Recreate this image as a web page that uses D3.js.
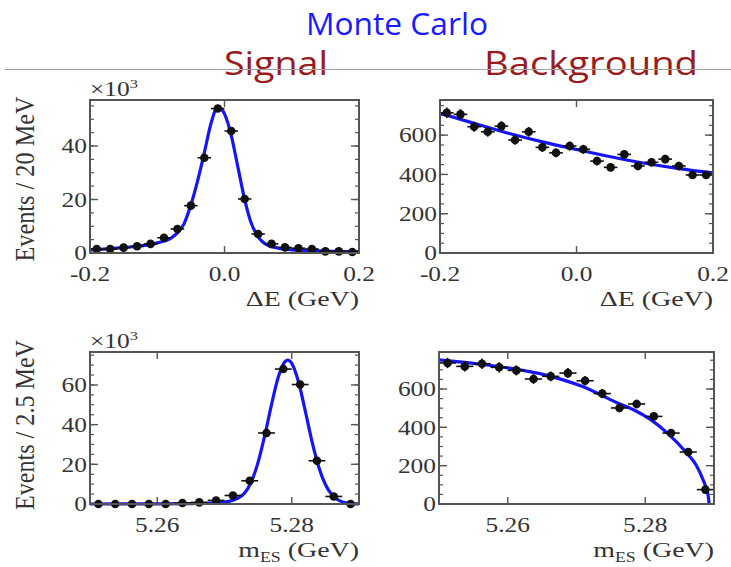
<!DOCTYPE html>
<html>
<head>
<meta charset="utf-8">
<script src="https://cdn.jsdelivr.net/npm/d3@7"></script>
<style>
  body { margin: 0; background: #fff; }
</style>
</head>
<body>
<svg id="chart" width="731" height="567"></svg>
<script>
// titles
const mainTitle = 'Monte Carlo'
const columnTitles = ['Signal', 'Background']

// ΔE histograms (20 MeV bins)
const deBins = [-0.19, -0.17, -0.15, -0.13, -0.11, -0.09, -0.07, -0.05, -0.03, -0.01,
                0.01, 0.03, 0.05, 0.07, 0.09, 0.11, 0.13, 0.15, 0.17, 0.19]
const sigDeCounts = [1.5, 1.5, 2.0, 2.5, 3.4, 5.7, 9.0, 17.7, 35.6, 54.0,
                     45.6, 20.2, 7.1, 3.4, 2.1, 1.8, 1.5, 0.6, 0.6, 0.4]   // x10^3
const bkgDeCounts = [714, 706, 643, 617, 646, 575, 617, 538, 510, 545,
                     528, 468, 436, 502, 443, 462, 478, 443, 397, 397]

// ΔE fit curves
const sigDeFitX = [-0.2, -0.15, -0.1, -0.08, -0.07, -0.06, -0.05, -0.04, -0.03, -0.02, -0.01,
                   0.0, 0.01, 0.02, 0.03, 0.04, 0.05, 0.06, 0.08, 0.1, 0.15, 0.2]
const sigDeFitY = [1.2, 2.0, 3.8, 5.5, 7.5, 11, 18, 27, 37.5, 48.5, 54.6,
                   52, 44, 32, 20, 11, 6, 3.5, 1.8, 1.2, 0.7, 0.5]
const bkgDeFitX = [-0.2, -0.15, -0.1, -0.05, 0.0, 0.05, 0.1, 0.15, 0.2]
const bkgDeFitY = [712, 660, 610, 566, 527, 490, 457, 430, 408]

// mES histograms (2.5 MeV bins)
const mesBins = [5.25125, 5.25375, 5.25625, 5.25875, 5.26125, 5.26375, 5.26625, 5.26875,
                 5.27125, 5.27375, 5.27625, 5.27875, 5.28125, 5.28375, 5.28625, 5.28875]
const sigMesCounts = [0, 0, 0, 0, 0, 0.5, 0.8, 1.8, 4.3, 11.7, 35.8, 68, 60.2, 21.8, 3.8, 0]  // x10^3
const bkgMesCounts = [736, 718, 732, 713, 697, 652, 666, 683, 643, 576, 501, 522, 457, 370, 271, 75]

// mES fit curves
const sigMesFitX = [5.25, 5.26, 5.265, 5.268, 5.27, 5.272, 5.273, 5.274, 5.275, 5.276, 5.277, 5.278,
                    5.279, 5.2794, 5.28, 5.281, 5.282, 5.283, 5.284, 5.285, 5.286, 5.287, 5.288, 5.289, 5.29]
const sigMesFitY = [0, 0.05, 0.2, 0.5, 1.0, 3.0, 5.6, 11.3, 21.1, 34.7, 50.2, 64,
                    71.8, 72.5, 70.9, 61.6, 47.1, 31.7, 18.8, 9.8, 4.5, 1.8, 0.6, 0.2, 0.05]
const bkgMesFitX = [5.25, 5.2558, 5.26, 5.2658, 5.2708, 5.2758, 5.2783, 5.2808, 5.2833, 5.2858,
                    5.2875, 5.2884, 5.2889, 5.2891, 5.2893]
const bkgMesFitY = [752, 730, 710, 670, 614, 530, 492, 440, 367, 275, 197, 127, 80, 55, 0]

// axes
const deTicks = [-0.2, 0.0, 0.2]
const deTickLabels = ['-0.2', '0.0', '0.2']
const mesTicks = [5.26, 5.28]
const mesTickLabels = ['5.26', '5.28']
const sigDeYTicks = [0, 20, 40]
const sigMesYTicks = [0, 20, 40, 60]
const bkgYTicks = [0, 200, 400, 600]

const panels = [
  {left: 90, top: 100, w: 269, h: 153, xd: [-0.2, 0.2], yd: [0, 57.2], bins: deBins, counts: sigDeCounts,
   binW: 0.02, fx: sigDeFitX, fy: sigDeFitY, xt: deTicks, xl: deTickLabels, yt: sigDeYTicks, ym: 5,
   scale: 1000, exp: true, ytitle: 'Events / 20 MeV', ylen: 165, yc: 79, xtitle: 'de'},
  {left: 440, top: 100, w: 273, h: 153, xd: [-0.2, 0.2], yd: [0, 779], bins: deBins, counts: bkgDeCounts,
   binW: 0.02, fx: bkgDeFitX, fy: bkgDeFitY, xt: deTicks, xl: deTickLabels, yt: bkgYTicks, ym: 50,
   scale: 1, exp: false, xtitle: 'de'},
  {left: 90, top: 352, w: 269, h: 152, xd: [5.25, 5.29], yd: [0, 76.6], bins: mesBins, counts: sigMesCounts,
   binW: 0.0025, fx: sigMesFitX, fy: sigMesFitY, xt: mesTicks, xl: mesTickLabels, yt: sigMesYTicks, ym: 5,
   scale: 1000, exp: true, ytitle: 'Events / 2.5 MeV', ylen: 170, yc: 73, xtitle: 'mes'},
  {left: 439, top: 352, w: 275, h: 152, xd: [5.25, 5.29], yd: [0, 793], bins: mesBins, counts: bkgMesCounts,
   binW: 0.0025, fx: bkgMesFitX, fy: bkgMesFitY, xt: mesTicks, xl: mesTickLabels, yt: bkgYTicks, ym: 50,
   scale: 1, exp: false, xtitle: 'mes'}
]

const svg = d3.select('#chart')
const frameColor = '#555'
const labelColor = '#333'
const serif = '"Liberation Serif", "Times New Roman", serif'
const sans = '"Open Sans", Lato, sans-serif'
const stretch = 1.27 // the plot text is widened horizontally

// header
svg.append('text')
  .attr('x', 397).attr('y', 35)
  .attr('text-anchor', 'middle')
  .style('font-family', sans)
  .style('font-size', '31px')
  .attr('textLength', 182).attr('lengthAdjust', 'spacingAndGlyphs')
  .attr('fill', '#1a1aff')
  .text(mainTitle)

const colX = [276, 591]
const colW = [104, 214]
columnTitles.forEach((t, i) => {
  svg.append('text')
    .attr('x', colX[i]).attr('y', 75)
    .attr('text-anchor', 'middle')
    .style('font-family', sans)
    .style('font-size', '32px')
    .attr('textLength', colW[i]).attr('lengthAdjust', 'spacingAndGlyphs')
    .attr('fill', '#9a1b1e')
    .text(t)
})

svg.append('line') // separator line
  .attr('x1', 5).attr('x2', 731)
  .attr('y1', 69.5).attr('y2', 69.5)
  .attr('stroke', '#a0a0a0')
  .attr('stroke-width', 1)

// text at (x, y), widened horizontally
function wideText(g, x, y, anchor, size) {
  return g.append('text')
    .attr('transform', 'translate(' + x + ',' + y + ') scale(' + stretch + ',1)')
    .attr('text-anchor', anchor)
    .style('font-family', serif)
    .style('font-size', size + 'px')
    .attr('fill', labelColor)
}

panels.forEach(p => {
  const x = d3.scaleLinear().domain(p.xd).range([0, p.w])
  const y = d3.scaleLinear().domain(p.yd).range([p.h, 0])
  const g = svg.append('g').attr('transform', 'translate(' + p.left + ',' + p.top + ')')

  // minor y ticks (left and right, inward)
  const minor = d3.range(p.yd[0], p.yd[1], p.ym)
  g.selectAll('.ymin-l').data(minor).enter().append('line')
    .attr('x1', 0).attr('x2', 4).attr('y1', d => y(d)).attr('y2', d => y(d))
    .attr('stroke', frameColor).attr('stroke-width', 1.2)
  g.selectAll('.ymin-r').data(minor).enter().append('line')
    .attr('x1', p.w).attr('x2', p.w - 4).attr('y1', d => y(d)).attr('y2', d => y(d))
    .attr('stroke', frameColor).attr('stroke-width', 1.2)
  // major y ticks
  g.selectAll('.ymaj-l').data(p.yt).enter().append('line')
    .attr('x1', 0).attr('x2', 8).attr('y1', d => y(d)).attr('y2', d => y(d))
    .attr('stroke', frameColor).attr('stroke-width', 1.4)
  g.selectAll('.ymaj-r').data(p.yt).enter().append('line')
    .attr('x1', p.w).attr('x2', p.w - 8).attr('y1', d => y(d)).attr('y2', d => y(d))
    .attr('stroke', frameColor).attr('stroke-width', 1.4)
  // major x ticks top and bottom
  g.selectAll('.xmaj-b').data(p.xt).enter().append('line')
    .attr('x1', d => x(d)).attr('x2', d => x(d)).attr('y1', p.h).attr('y2', p.h - 7)
    .attr('stroke', frameColor).attr('stroke-width', 1.4)
  g.selectAll('.xmaj-t').data(p.xt).enter().append('line')
    .attr('x1', d => x(d)).attr('x2', d => x(d)).attr('y1', 0).attr('y2', 7)
    .attr('stroke', frameColor).attr('stroke-width', 1.4)

  // tick labels
  p.yt.forEach(v => {
    wideText(g, -3, y(v), 'end', 20).attr('dy', '0.36em').text(v)
  })
  p.xt.forEach((v, i) => {
    wideText(g, x(v), p.h + 28, 'middle', 20).text(p.xl[i])
  })

  // fit curve
  const fit = p.fx.map((v, i) => [v, p.fy[i]])
  const line = d3.line().x(d => x(d[0])).y(d => y(d[1])).curve(d3.curveMonotoneX)
  g.append('path').datum(fit)
    .attr('d', line)
    .attr('fill', 'none')
    .attr('stroke', '#1515f5')
    .attr('stroke-width', 3.2)

  // data points with error bars
  const pts = p.bins.map((b, i) => ({x: b, y: p.counts[i]}))
  g.selectAll('.hbar').data(pts).enter().append('line')
    .attr('x1', d => x(d.x - p.binW / 2)).attr('x2', d => x(d.x + p.binW / 2))
    .attr('y1', d => y(d.y)).attr('y2', d => y(d.y))
    .attr('stroke', '#111').attr('stroke-width', 1.6)
  g.selectAll('.vbar').data(pts).enter().append('line')
    .attr('x1', d => x(d.x)).attr('x2', d => x(d.x))
    .attr('y1', d => y(d.y + Math.sqrt(d.y * p.scale) / p.scale))
    .attr('y2', d => y(Math.max(0, d.y - Math.sqrt(d.y * p.scale) / p.scale)))
    .attr('stroke', '#111').attr('stroke-width', 1.6)
  g.selectAll('.pt').data(pts).enter().append('circle')
    .attr('cx', d => x(d.x)).attr('cy', d => y(d.y))
    .attr('r', 4.3)
    .attr('fill', '#111')

  // frame
  g.append('rect')
    .attr('width', p.w).attr('height', p.h)
    .attr('fill', 'none')
    .attr('stroke', frameColor)
    .attr('stroke-width', 2)

  // ×10^3 exponent
  if (p.exp) {
    const t = wideText(g, 0, -4, 'start', 20)
    t.append('tspan').text('\u00d710')
    t.append('tspan').attr('dy', '-8').style('font-size', '13px').text('3')
  }

  // y title
  if (p.ytitle) {
    g.append('text')
      .attr('transform', 'translate(-56,' + p.yc + ') scale(' + stretch + ',1) rotate(-90)')
      .attr('text-anchor', 'middle')
      .attr('textLength', p.ylen).attr('lengthAdjust', 'spacingAndGlyphs')
      .style('font-family', serif)
      .style('font-size', '21px').attr('fill', labelColor)
      .text(p.ytitle)
  }

  // x title
  const xt = wideText(g, p.w, p.h + 53, 'end', 22)
  if (p.xtitle === 'de') {
    xt.text('\u0394E (GeV)')
  } else {
    xt.append('tspan').text('m')
    xt.append('tspan').attr('dy', 5).style('font-size', '14px').text('ES')
    xt.append('tspan').attr('dy', -5).text(' (GeV)')
  }
})
</script>
</body>
</html>
